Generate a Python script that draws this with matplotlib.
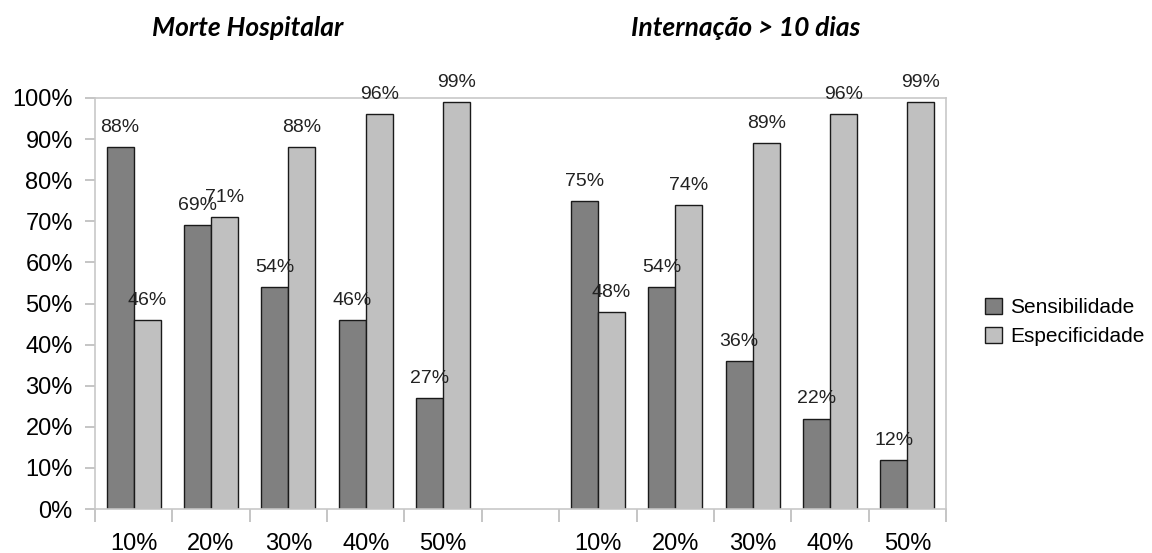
import numpy as np
import matplotlib
matplotlib.use("Agg")
from matplotlib import pyplot as plt

plt.rcParams['font.family'] = ['Liberation Sans', 'DejaVu Sans']

cutoffs = ['10%', '20%', '30%', '40%', '50%']
morte_sens = [88, 69, 54, 46, 27]
morte_esp = [46, 71, 88, 96, 99]
intern_sens = [75, 54, 36, 22, 12]
intern_esp = [48, 74, 89, 96, 99]

# two panels share one axis, with an empty slot between them
labels = cutoffs + [''] + cutoffs
sens = morte_sens + [np.nan] + intern_sens
esp = morte_esp + [np.nan] + intern_esp

fig = plt.figure(figsize=(11.52, 5.53), dpi=100)
ax = fig.add_axes([95/1152, 1-509/553, (946-95)/1152, (509-98)/553])

x = np.arange(len(labels))
w = 0.35
b1 = ax.bar(x - w/2, sens, w, color='#808080', edgecolor='#1a1a1a', linewidth=1, label='Sensibilidade')
b2 = ax.bar(x + w/2, esp, w, color='#c0c0c0', edgecolor='#1a1a1a', linewidth=1, label='Especificidade')

for bars, vals in ((b1, sens), (b2, esp)):
    for r, v in zip(bars, vals):
        if np.isnan(v):
            continue
        ax.annotate('%d%%' % v, (r.get_x() + r.get_width()/2, v), xytext=(0, 8),
                    textcoords='offset points', ha='center', va='bottom',
                    fontsize=14, color='#222222')

ax.set_xlim(-0.5, len(labels) - 0.5)
ax.set_ylim(0, 100)
ax.set_yticks(range(0, 101, 10))
ax.set_yticklabels(['%d%%' % t for t in range(0, 101, 10)], fontsize=17)
ax.set_xticks(np.arange(len(labels) + 1) - 0.5)
ax.set_xticklabels([])
ax.set_xticks(x, minor=True)
ax.set_xticklabels(labels, minor=True, fontsize=17)
ax.tick_params(axis='x', which='major', length=9, color='#bbbbbb', width=1.2)
ax.tick_params(axis='x', which='minor', length=0, pad=17)
ax.tick_params(axis='y', length=7, color='#bbbbbb', width=1.2, pad=9)
for s in ax.spines.values():
    s.set_color('#c8c8c8')
    s.set_linewidth(1.2)

title_font = dict(ha='center', va='center', fontsize=19, fontweight='bold',
                  fontstyle='italic', family=['Lato', 'DejaVu Sans'])
fig.text(248/1152, 1-28/553, 'Morte Hospitalar', **title_font)
fig.text(746/1152, 1-28/553, 'Internação > 10 dias', **title_font)

fig.legend(handles=[b1, b2], loc='center left', bbox_to_anchor=(975/1152, 1-322/553),
           frameon=False, fontsize=15, handlelength=0.8, handleheight=0.8,
           handletextpad=0.4, labelspacing=0.5, borderpad=0)

fig.savefig('out.png', dpi=100)
